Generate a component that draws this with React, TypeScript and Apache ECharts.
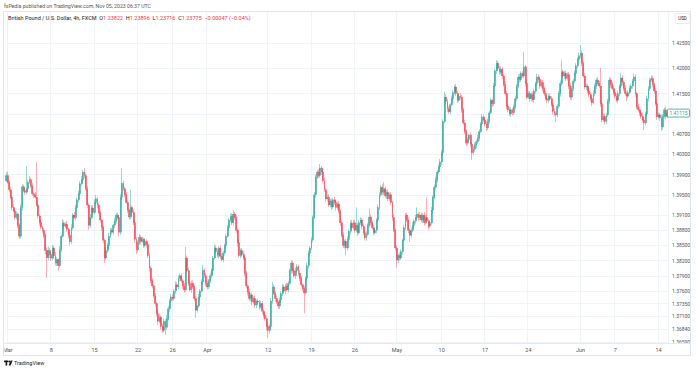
import { useEffect, useRef } from 'react';
import * as echarts from 'echarts';

// GBP/USD 4h candles, Feb 26 (last bar) .. Jun 14 2021. Opens follow the previous close.
const firstOpen = 1.3978;
const closesFeb26 = [1.3988];
const closesMar01 = [
  1.3975, 1.3960, 1.3945, 1.3925, 1.3918, 1.3905, 1.3912, 1.3890, 1.3868, 1.3925,
  1.3966, 1.3958, 1.3955, 1.3962, 1.3975, 1.3980, 1.3968, 1.3952, 1.3950, 1.3945,
  1.3930, 1.3908, 1.3895, 1.3886, 1.3880, 1.3870, 1.3840, 1.3826, 1.3840, 1.3832,
];
const closesMar08 = [
  1.3825, 1.3845, 1.3830, 1.3815, 1.3822, 1.3810, 1.3842, 1.3868, 1.3894, 1.3888,
  1.3892, 1.3882, 1.3870, 1.3857, 1.3885, 1.3910, 1.3905, 1.3925, 1.3940, 1.3952,
  1.3972, 1.3980, 1.3995, 1.3988, 1.3962, 1.3930, 1.3890, 1.3905, 1.3924, 1.3915,
];
const closesMar15 = [
  1.3935, 1.3942, 1.3930, 1.3915, 1.3900, 1.3886, 1.3860, 1.3825, 1.3840, 1.3850,
  1.3868, 1.3880, 1.3876, 1.3890, 1.3898, 1.3910, 1.3905, 1.3876, 1.3945, 1.3973,
  1.3962, 1.3950, 1.3935, 1.3920, 1.3906, 1.3925, 1.3915, 1.3895, 1.3862, 1.3841,
];
const closesMar22 = [
  1.3855, 1.3866, 1.3858, 1.3862, 1.3850, 1.3858, 1.3852, 1.3830, 1.3805, 1.3780,
  1.3770, 1.3750, 1.3735, 1.3715, 1.3700, 1.3708, 1.3690, 1.3682, 1.3700, 1.3688,
  1.3705, 1.3725, 1.3740, 1.3748, 1.3745, 1.3760, 1.3772, 1.3768, 1.3785, 1.3790,
];
const closesMar29 = [
  1.3780, 1.3770, 1.3762, 1.3825, 1.3800, 1.3775, 1.3762, 1.3775, 1.3768, 1.3745,
  1.3722, 1.3730, 1.3748, 1.3760, 1.3778, 1.3801, 1.3790, 1.3775, 1.3768, 1.3780,
  1.3790, 1.3800, 1.3825, 1.3845, 1.3838, 1.3830, 1.3845, 1.3828, 1.3822, 1.3835,
];
const closesApr05 = [
  1.3850, 1.3868, 1.3885, 1.3900, 1.3908, 1.3895, 1.3912, 1.3905, 1.3880, 1.3855,
  1.3830, 1.3840, 1.3832, 1.3825, 1.3795, 1.3770, 1.3758, 1.3745, 1.3752, 1.3738,
  1.3745, 1.3732, 1.3740, 1.3738, 1.3728, 1.3735, 1.3720, 1.3712, 1.3705, 1.3690,
];
const closesApr12 = [
  1.3682, 1.3690, 1.3740, 1.3768, 1.3755, 1.3745, 1.3738, 1.3730, 1.3742, 1.3755,
  1.3768, 1.3760, 1.3770, 1.3762, 1.3775, 1.3800, 1.3815, 1.3800, 1.3790, 1.3800,
  1.3808, 1.3795, 1.3785, 1.3772, 1.3765, 1.3756, 1.3785, 1.3810, 1.3835, 1.3845,
];
const closesApr19 = [
  1.3861, 1.3905, 1.3950, 1.3985, 1.3995, 1.3988, 1.4003, 1.3995, 1.3978, 1.3960,
  1.3942, 1.3945, 1.3930, 1.3938, 1.3926, 1.3940, 1.3935, 1.3925, 1.3932, 1.3918,
  1.3895, 1.3870, 1.3850, 1.3858, 1.3845, 1.3862, 1.3878, 1.3894, 1.3885, 1.3895,
];
const closesApr26 = [
  1.3880, 1.3890, 1.3875, 1.3895, 1.3900, 1.3888, 1.3875, 1.3865, 1.3872, 1.3890,
  1.3906, 1.3895, 1.3885, 1.3875, 1.3880, 1.3900, 1.3925, 1.3950, 1.3965, 1.3955,
  1.3962, 1.3948, 1.3955, 1.3942, 1.3950, 1.3935, 1.3905, 1.3880, 1.3845, 1.3821,
];
const closesMay03 = [
  1.3830, 1.3825, 1.3838, 1.3860, 1.3885, 1.3910, 1.3900, 1.3880, 1.3870, 1.3880,
  1.3890, 1.3898, 1.3905, 1.3912, 1.3905, 1.3910, 1.3900, 1.3910, 1.3895, 1.3905,
  1.3898, 1.3888, 1.3895, 1.3920, 1.3945, 1.3965, 1.3980, 1.3995, 1.4005, 1.4015,
];
const closesMay10 = [
  1.4033, 1.4095, 1.4143, 1.4135, 1.4120, 1.4114, 1.4128, 1.4140, 1.4152, 1.4163,
  1.4150, 1.4137, 1.4145, 1.4143, 1.4118, 1.4092, 1.4075, 1.4052, 1.4060, 1.4068,
  1.4050, 1.4033, 1.4040, 1.4048, 1.4055, 1.4062, 1.4075, 1.4090, 1.4104, 1.4098,
];
const closesMay17 = [
  1.4090, 1.4082, 1.4095, 1.4112, 1.4137, 1.4130, 1.4165, 1.4195, 1.4210, 1.4200,
  1.4192, 1.4198, 1.4185, 1.4168, 1.4150, 1.4125, 1.4118, 1.4110, 1.4118, 1.4112,
  1.4124, 1.4140, 1.4165, 1.4183, 1.4178, 1.4190, 1.4185, 1.4203, 1.4170, 1.4143,
];
const closesMay24 = [
  1.4150, 1.4140, 1.4148, 1.4138, 1.4155, 1.4170, 1.4183, 1.4178, 1.4165, 1.4172,
  1.4160, 1.4150, 1.4140, 1.4137, 1.4145, 1.4140, 1.4128, 1.4115, 1.4110, 1.4108,
  1.4125, 1.4150, 1.4170, 1.4193, 1.4185, 1.4190, 1.4180, 1.4188, 1.4165, 1.4143,
];
const closesMay31 = [
  1.4160, 1.4175, 1.4190, 1.4205, 1.4218, 1.4225, 1.4230, 1.4210, 1.4185, 1.4163,
  1.4165, 1.4155, 1.4148, 1.4140, 1.4132, 1.4150, 1.4165, 1.4177, 1.4170, 1.4165,
  1.4130, 1.4098, 1.4105, 1.4095, 1.4108, 1.4135, 1.4177, 1.4168, 1.4160, 1.4152,
];
const closesJun07 = [
  1.4145, 1.4137, 1.4150, 1.4165, 1.4181, 1.4172, 1.4160, 1.4150, 1.4145, 1.4152,
  1.4160, 1.4165, 1.4175, 1.4183, 1.4150, 1.4124, 1.4118, 1.4112, 1.4105, 1.4098,
  1.4092, 1.4110, 1.4140, 1.4160, 1.4177, 1.4180, 1.4168, 1.4155, 1.4130, 1.4104,
];
const closesJun14 = [1.4108, 1.4102, 1.4084, 1.4105, 1.4118, 1.4105, 1.41115];

// Upper wicks (pips above the body) and lower wicks (pips below the body)
const upperWicks = [
  6,
  8, 4, 5, 3, 6, 4, 5, 3, 4, 6, 5, 4, 6, 45, 5, 7, 4, 5, 3, 6, 70, 5, 4, 6, 3, 5, 4, 6, 8, 5,
  5, 6, 4, 7, 5, 3, 6, 4, 8, 5, 4, 6, 3, 5, 7, 4, 6, 5, 4, 6, 5, 7, 4, 8, 5, 6, 4, 7, 5, 6,
  6, 8, 4, 5, 6, 3, 5, 4, 6, 5, 7, 4, 5, 3, 6, 4, 5, 4, 6, 30, 5, 4, 6, 5, 3, 35, 4, 6, 5, 4,
  5, 6, 4, 5, 3, 6, 4, 5, 6, 4, 5, 3, 6, 4, 5, 7, 4, 5, 6, 4, 8, 5, 4, 6, 5, 4, 7, 5, 6, 4,
  5, 4, 6, 22, 5, 6, 4, 5, 6, 4, 5, 3, 6, 4, 5, 10, 4, 6, 5, 4, 6, 5, 4, 7, 5, 6, 4, 5, 6, 4,
  4, 5, 6, 4, 5, 6, 8, 4, 5, 3, 6, 4, 5, 6, 4, 5, 3, 6, 4, 5, 4, 6, 3, 5, 4, 6, 5, 4, 6, 5,
  5, 4, 6, 10, 5, 4, 6, 3, 5, 4, 6, 5, 4, 6, 5, 4, 6, 5, 4, 6, 5, 4, 6, 5, 3, 5, 4, 6, 5, 4,
  5, 4, 6, 5, 4, 6, 8, 4, 5, 6, 4, 5, 6, 4, 5, 3, 6, 4, 5, 6, 4, 5, 6, 4, 5, 6, 4, 5, 7, 5,
  6, 35, 4, 5, 6, 4, 5, 3, 6, 4, 17, 5, 4, 6, 5, 4, 6, 5, 4, 6, 13, 4, 5, 6, 4, 5, 3, 6, 4, 5,
  4, 6, 5, 3, 6, 4, 5, 6, 4, 5, 6, 4, 5, 13, 4, 6, 5, 4, 6, 5, 40, 4, 5, 6, 4, 5, 6, 4, 5, 6,
  5, 4, 10, 6, 4, 5, 3, 6, 5, 4, 6, 5, 4, 6, 5, 4, 6, 5, 4, 3, 5, 4, 6, 5, 4, 6, 5, 4, 6, 5,
  4, 5, 6, 4, 5, 3, 6, 4, 6, 5, 4, 6, 5, 4, 6, 5, 4, 6, 5, 4, 5, 6, 4, 5, 6, 4, 5, 29, 4, 6,
  6, 5, 4, 6, 5, 4, 6, 5, 4, 6, 5, 4, 6, 5, 4, 6, 5, 4, 6, 5, 4, 5, 6, 23, 4, 5, 6, 4, 5, 6,
  5, 4, 6, 5, 4, 6, 16, 5, 4, 6, 5, 4, 6, 5, 4, 6, 5, 4, 6, 5, 36, 4, 5, 6, 4, 5, 6, 4, 5, 6,
  4, 5, 6, 4, 9, 5, 4, 6, 5, 4, 6, 5, 4, 7, 5, 4, 6, 5, 4, 6, 5, 4, 6, 5, 4, 6, 5, 4, 6, 5,
  5, 4, 6, 5, 4, 6, 5,
];
const lowerWicks = [
  3,
  3, 5, 4, 6, 3, 5, 4, 6, 5, 4, 6, 3, 5, 4, 6, 3, 5, 4, 6, 3, 4, 5, 6, 4, 5, 6, 8, 40, 6, 7,
  6, 4, 7, 5, 6, 10, 4, 5, 3, 6, 4, 5, 6, 7, 4, 5, 3, 6, 4, 5, 3, 4, 6, 5, 4, 6, 9, 5, 4, 6,
  4, 5, 6, 3, 5, 7, 6, 10, 4, 5, 6, 3, 5, 4, 6, 5, 4, 8, 5, 6, 4, 5, 3, 6, 5, 4, 6, 5, 7, 8,
  5, 4, 6, 3, 5, 4, 6, 5, 7, 6, 5, 4, 6, 5, 7, 4, 6, 5, 4, 15, 5, 4, 6, 3, 5, 4, 6, 5, 4, 6,
  4, 6, 5, 4, 6, 5, 3, 6, 4, 5, 15, 5, 4, 6, 3, 5, 4, 6, 5, 4, 5, 4, 6, 3, 5, 4, 6, 5, 4, 5,
  5, 4, 3, 6, 4, 5, 6, 4, 5, 7, 4, 6, 5, 4, 6, 5, 7, 4, 5, 6, 4, 5, 6, 4, 5, 3, 6, 5, 4, 8,
  15, 6, 4, 5, 3, 6, 4, 5, 6, 4, 5, 4, 6, 3, 5, 4, 6, 5, 4, 6, 4, 5, 6, 4, 5, 40, 5, 4, 6, 5,
  4, 5, 3, 6, 4, 5, 4, 6, 5, 4, 6, 5, 4, 5, 6, 4, 5, 6, 4, 5, 6, 4, 5, 6, 15, 5, 4, 6, 5, 4,
  5, 4, 6, 4, 5, 6, 4, 5, 6, 4, 5, 6, 4, 5, 3, 6, 4, 5, 4, 6, 5, 4, 6, 5, 4, 5, 6, 4, 5, 14,
  6, 5, 4, 6, 3, 5, 4, 6, 13, 5, 4, 6, 5, 4, 6, 5, 4, 5, 6, 4, 5, 6, 4, 5, 6, 4, 5, 6, 4, 5,
  6, 5, 4, 5, 6, 4, 5, 3, 6, 4, 5, 6, 4, 5, 6, 4, 5, 6, 4, 5, 6, 14, 4, 5, 6, 4, 5, 3, 6, 5,
  5, 6, 4, 5, 3, 6, 4, 5, 6, 4, 5, 4, 6, 5, 4, 6, 5, 4, 6, 5, 4, 6, 5, 4, 6, 5, 4, 5, 6, 4,
  4, 6, 5, 4, 6, 5, 4, 6, 5, 4, 6, 5, 4, 6, 5, 4, 5, 6, 4, 14, 5, 4, 6, 5, 4, 6, 5, 4, 6, 5,
  6, 5, 4, 6, 5, 4, 5, 6, 4, 5, 6, 4, 5, 6, 7, 4, 5, 6, 4, 5, 6, 5, 4, 6, 5, 4, 5, 6, 4, 5,
  5, 4, 6, 5, 4, 6, 5, 4, 10, 5, 4, 6, 5, 4, 6, 5, 4, 6, 5, 4, 14, 5, 4, 6, 5, 4, 6, 5, 4, 6,
  4, 6, 8, 5, 4, 5, 4,
];

// Date labels on the time axis (candle index -> label)
const dateLabelIndex = [1, 31, 61, 91, 115, 139, 181, 211, 241, 270, 301, 331, 361, 397, 421, 451];
const dateLabels = ['Mar', '8', '15', '22', '26', 'Apr', '12', '19', '26', 'May', '10', '17', '24', 'Jun', '7', '14'];

// Price scale labels and grid levels
const priceLabels = [
  1.3659, 1.3684, 1.371, 1.3735, 1.376, 1.379, 1.382, 1.385, 1.388, 1.391,
  1.395, 1.399, 1.403, 1.407, 1.415, 1.42, 1.425,
];
const priceGrid = [...priceLabels, 1.411];
const Y_MIN = 1.36571;
const Y_MAX = 1.43113;

const headerText = 'fxPedia published on TradingView.com, Nov 05, 2023 06:37 UTC';
const symbolText = 'British Pound / U.S. Dollar, 4h, FXCM';
const ohlcLegend = { O: '1.23822', H: '1.23896', L: '1.23716', C: '1.23775', chg: '\u22120.00047 (\u22120.04%)' };

const PIP = 0.0001;
const UP = '#26a69a';
const DOWN = '#f23645';
const UP_WICK = 'rgba(38,166,154,0.45)';
const DOWN_WICK = 'rgba(242,54,69,0.4)';
const FONT = 'Roboto, "Open Sans", sans-serif';

export default function App() {
  const ref = useRef<HTMLDivElement>(null);
  useEffect(() => {
    if (!ref.current) return;
    const chart = echarts.init(ref.current, undefined, { renderer: 'svg' });

    const closes = [
      ...closesFeb26, ...closesMar01, ...closesMar08, ...closesMar15, ...closesMar22,
      ...closesMar29, ...closesApr05, ...closesApr12, ...closesApr19, ...closesApr26,
      ...closesMay03, ...closesMay10, ...closesMay17, ...closesMay24, ...closesMay31,
      ...closesJun07, ...closesJun14,
    ];
    const opens = closes.map((c, i) => (i === 0 ? firstOpen : closes[i - 1]));
    const highs = closes.map((c, i) => Math.max(opens[i], c) + (upperWicks[i] ?? 4) * PIP);
    const lows = closes.map((c, i) => Math.min(opens[i], c) - (lowerWicks[i] ?? 4) * PIP);
    const cats = closes.map((_, i) => String(i));
    const wickData = closes.map((c, i) => [opens[i], c, lows[i], highs[i]]);
    const bodyData = closes.map((c, i) => [opens[i], c, Math.min(opens[i], c), Math.max(opens[i], c)]);
    const labelSet = new Set(dateLabelIndex);
    const labelOf = (i: number) => dateLabels[dateLabelIndex.indexOf(i)] ?? '';

    const staticGraphic: any[] = [
      { type: 'text', x: 4, y: 6, style: { text: headerText, fontSize: 5.2, fill: '#555', fontFamily: FONT, verticalAlign: 'middle' } },
      { type: 'rect', shape: { x: 0, y: 344, width: 4.4, height: 11 }, style: { fill: '#fff' }, z: 45 },
      { type: 'rect', shape: { x: 3.5, y: 11.5, width: 687, height: 344 }, style: { fill: 'none', stroke: '#e0e3eb', lineWidth: 1 }, z: 50 },
      { type: 'line', shape: { x1: 3.5, y1: 343.5, x2: 690.5, y2: 343.5 }, style: { stroke: '#e6e9ef', lineWidth: 1 }, z: 50 },
      {
        type: 'text', x: 8, y: 17.5, z: 50,
        style: {
          text: `{n|${symbolText}}  {k|O}{v|${ohlcLegend.O}}  {k|H}{v|${ohlcLegend.H}}  {k|L}{v|${ohlcLegend.L}}  {k|C}{v|${ohlcLegend.C}}  {v|${ohlcLegend.chg}}`,
          fontFamily: FONT, fontSize: 5.5, verticalAlign: 'middle',
          rich: {
            n: { fill: '#131722', fontSize: 5.5, fontFamily: FONT },
            k: { fill: '#131722', fontSize: 5.5, fontFamily: FONT },
            v: { fill: '#f23645', fontSize: 5.5, fontFamily: FONT },
          },
        },
      },
      { type: 'rect', shape: { x: 675, y: 13.5, width: 15, height: 10, r: 2 }, style: { fill: '#fff', stroke: '#e0e3eb', lineWidth: 0.8 }, z: 50 },
      { type: 'text', x: 682.5, y: 18.5, style: { text: 'USD', fontSize: 4.5, fill: '#131722', fontFamily: FONT, align: 'center', verticalAlign: 'middle' }, z: 51 },
      { type: 'rect', shape: { x: 4, y: 360.6, width: 4.2, height: 1.6 }, style: { fill: '#131722' } },
      { type: 'rect', shape: { x: 5.6, y: 360.6, width: 1.6, height: 5 }, style: { fill: '#131722' } },
      { type: 'circle', shape: { cx: 9.2, cy: 361.4, r: 0.85 }, style: { fill: '#131722' } },
      { type: 'polygon', shape: { points: [[10.6, 360.6], [12.6, 360.6], [10.6, 365.6], [8.6, 365.6]] }, style: { fill: '#131722' } },
      { type: 'text', x: 14, y: 363, style: { text: 'TradingView', fontSize: 5.5, fill: '#131722', fontFamily: FONT, verticalAlign: 'middle' } },
    ];

    chart.setOption({
      animation: false,
      backgroundColor: '#ffffff',
      textStyle: { fontFamily: FONT },
      grid: { left: 3, top: 12, width: 665, height: 331, containLabel: false },
      xAxis: {
        type: 'category',
        data: cats,
        boundaryGap: true,
        axisLine: { show: false },
        axisTick: { show: false },
        axisLabel: {
          interval: (i: number) => labelSet.has(i),
          formatter: (_v: string, i: number) => labelOf(i),
          fontSize: 5.5, color: '#50535e', margin: 4, fontFamily: FONT,
        },
        splitLine: { show: true, interval: (i: number) => labelSet.has(i), lineStyle: { color: '#f0f3fa', width: 1 } },
      },
      yAxis: {
        type: 'value',
        position: 'right',
        min: Y_MIN,
        max: Y_MAX,
        scale: true,
        axisLine: { show: false },
        axisTick: { show: false, customValues: priceGrid },
        axisLabel: {
          customValues: priceLabels,
          formatter: (v: number) => v.toFixed(5),
          fontSize: 5, color: '#50535e', margin: 4, fontFamily: FONT,
        },
        splitLine: { show: true, lineStyle: { color: '#f0f3fa', width: 1 } },
      },
      series: [
        {
          type: 'candlestick',
          name: 'wicks',
          data: wickData,
          barWidth: 0.6,
          itemStyle: {
            color: UP_WICK, color0: DOWN_WICK,
            borderColor: UP_WICK, borderColor0: DOWN_WICK,
            borderWidth: 1,
          },
          silent: true,
        },
        {
          type: 'candlestick',
          name: 'bodies',
          data: bodyData,
          barWidth: 1.4,
          itemStyle: { color: UP, color0: DOWN, borderColor: UP, borderColor0: DOWN, borderWidth: 0.35 },
          silent: true,
        },
      ],
      graphic: staticGraphic,
    });

    const last = closes[closes.length - 1];
    const lastUp = last >= opens[opens.length - 1];
    const py = chart.convertToPixel({ yAxisIndex: 0 }, last) as number;
    const lblColor = lastUp ? UP : DOWN;
    chart.setOption({
      graphic: [
        ...staticGraphic,
        { type: 'rect', shape: { x: 667.5, y: py - 4, width: 22, height: 8, r: 1 }, style: { fill: '#fff', stroke: lblColor, lineWidth: 0.8 }, z: 55 },
        { type: 'text', x: 678.5, y: py, style: { text: last.toFixed(5), fontSize: 5, fill: lblColor, fontFamily: FONT, align: 'center', verticalAlign: 'middle' }, z: 56 },
      ],
    });

    return () => chart.dispose();
  }, []);

  return <div ref={ref} style={{ position: 'absolute', left: 0, top: 0, width: 696, height: 370 }} />;
}
